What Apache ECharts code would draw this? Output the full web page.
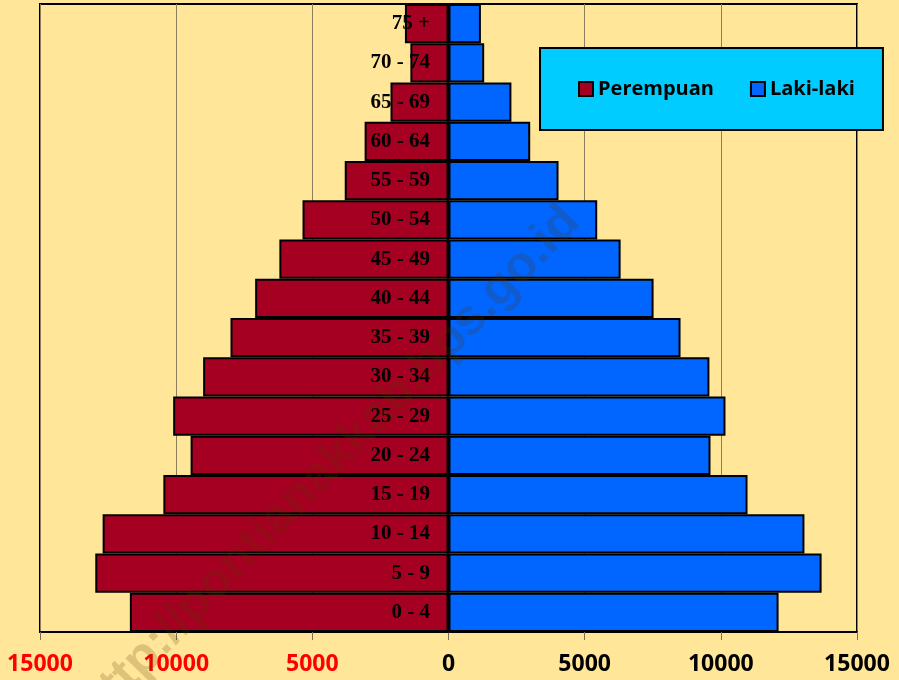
<!DOCTYPE html>
<html>
<head>
<meta charset="utf-8">
<script src="https://cdn.jsdelivr.net/npm/echarts@6/dist/echarts.min.js"></script>
<style>
html,body{margin:0;padding:0;background:#FFE699;}
#chart{width:899px;height:680px;}
</style>
</head>
<body>
<div id="chart"></div>
<script>
const categories = ['0 - 4','5 - 9','10 - 14','15 - 19','20 - 24','25 - 29','30 - 34','35 - 39','40 - 44','45 - 49','50 - 54','55 - 59','60 - 64','65 - 69','70 - 74','75 +'];
const perempuan = [11700, 12970, 12700, 10470, 9470, 10110, 9010, 8005, 7100, 6210, 5360, 3810, 3080, 2130, 1400, 1600];
const lakiLaki = [12120, 13700, 13070, 10980, 9620, 10170, 9580, 8520, 7530, 6320, 5460, 4040, 3000, 2310, 1310, 1190];
const xTicks = { min: -15000, max: 15000, interval: 5000 };

const chart = echarts.init(document.getElementById('chart'));
chart.setOption({
  backgroundColor: '#FFE699',
  animation: false,
  grid: { left: 40, right: 42, top: 4, bottom: 48, containLabel: false, outerBoundsMode: 'none',
          show: true, borderColor: '#000', borderWidth: 2, backgroundColor: 'transparent' },
  legend: {
    left: 540, top: 48,
    backgroundColor: '#00CCFF', borderColor: '#000', borderWidth: 2,
    padding: [31, 28, 31, 38],
    itemGap: 36, itemWidth: 14, itemHeight: 14, icon: 'rect',
    textStyle: { fontFamily: 'Open Sans', fontWeight: 'bold', fontSize: 20, color: '#000' },
    data: ['Perempuan', 'Laki-laki']
  },
  xAxis: {
    type: 'value', min: xTicks.min, max: xTicks.max, interval: xTicks.interval,
    axisLine: { show: true, onZero: false, lineStyle: { color: '#000', width: 2 } },
    axisTick: { show: true, length: 8, lineStyle: { color: '#7a7056' } },
    splitLine: { show: true, lineStyle: { color: '#8a7f5e', width: 1 } },
    axisLabel: {
      margin: 21,
      fontFamily: 'Open Sans', fontWeight: 'bold', fontSize: 23,
      formatter: v => String(Math.abs(v)),
      color: v => (Number(v) < 0 ? '#FF0000' : '#000')
    }
  },
  yAxis: {
    type: 'category', data: categories, z: 10, position: 'left', offset: -408,
    axisLine: { show: true, onZero: false, lineStyle: { color: '#000', width: 2 } },
    axisTick: { show: false },
    axisLabel: { margin: 18, fontFamily: 'Liberation Serif', fontWeight: 'bold', fontSize: 21, color: '#000' }
  },
  series: [
    {
      name: 'Perempuan', type: 'bar', stack: 'pop',
      data: perempuan.map(v => -v),
      barCategoryGap: '0%',
      itemStyle: { color: '#A50021', borderColor: '#000', borderWidth: 2 }
    },
    {
      name: 'Laki-laki', type: 'bar', stack: 'pop',
      data: lakiLaki,
      barCategoryGap: '0%',
      itemStyle: { color: '#0066FF', borderColor: '#000', borderWidth: 2 }
    }
  ],
  graphic: [{
    type: 'text', x: 572, y: 214, rotation: 46 * Math.PI / 180, z: 100,
    style: {
      text: 'http://pontianakkab.bps.go.id',
      font: 'bold 50px "Liberation Sans"',
      fill: 'rgba(90,50,0,0.2)',
      textAlign: 'right', textVerticalAlign: 'middle'
    }
  }]
});
</script>
</body>
</html>
